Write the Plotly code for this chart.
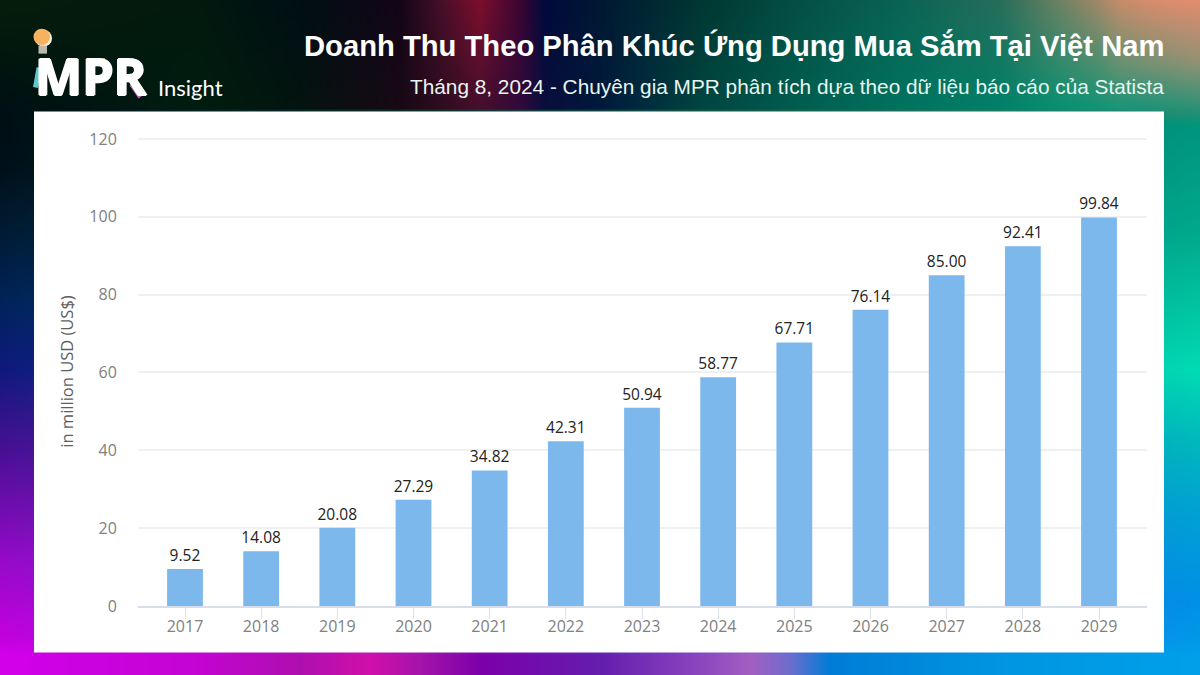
import base64, struct, zlib
import numpy as np
import plotly.graph_objects as go

years = ["2017","2018","2019","2020","2021","2022","2023","2024","2025","2026","2027","2028","2029"]
revenue = [9.52,14.08,20.08,27.29,34.82,42.31,50.94,58.77,67.71,76.14,85.00,92.41,99.84]
y_ticks = [0,20,40,60,80,100,120]
title = "Doanh Thu Theo Phân Khúc Ứng Dụng Mua Sắm Tại Việt Nam"
subtitle = "Tháng 8, 2024 - Chuyên gia MPR phân tích dựa theo dữ liệu báo cáo của Statista"

W, H = 1200, 675
L, R, T, B = 138, 1147, 136.55, 606.5
def px(x): return (x - L) / (R - L)
def py(y): return (B - y) / (B - T)

# background gradient colour stops
top_x = [0,200,300,400,440,480,520,545,600,700,800,900,1000,1060,1120,1200]
top_0 = [(5,30,10),(3,25,15),(0,15,20),(20,5,25),(70,15,40),(125,15,45),(60,5,50),(0,10,60),(0,25,50),(0,55,50),(5,80,70),(10,100,85),(40,110,90),(110,130,100),(190,140,105),(225,140,110)]
top_1 = [(0,15,20),(0,30,15),(5,20,15),(25,10,20),(45,12,30),(70,15,45),(50,10,60),(10,15,60),(0,25,60),(0,70,65),(0,95,80),(0,115,95),(0,130,105),(5,145,115),(20,150,120),(0,150,125)]
edge_y = [110,160,215,300,366,452,560,646,675]
left_c = [(0,15,20),(0,15,25),(0,25,45),(0,35,90),(15,25,125),(75,15,150),(150,10,200),(200,0,225),(210,0,235)]
edge_y_r = [0,60,110,125,230,370,440,520,600,675]
right_c = [(225,140,110),(150,145,115),(40,145,118),(0,150,125),(0,170,140),(0,220,180),(0,185,190),(0,160,215),(0,145,230),(0,160,235)]
bot_x = [0,200,300,370,420,480,600,700,750,790,830,1000,1200]
bot_c = [(210,0,235),(195,5,210),(175,15,175),(210,15,170),(165,20,170),(125,0,170),(100,30,175),(140,70,190),(165,95,195),(110,110,205),(0,125,215),(0,150,225),(0,160,235)]

def ramp(q, xs, cols):
    cols = np.array(cols, float)
    return np.stack([np.interp(q, xs, cols[:, i]) for i in range(3)], -1)

def background():
    w, h = W // 2, H // 2 + 1
    xs = np.linspace(0, W, w); ys = np.linspace(0, H, h)
    img = np.zeros((h, w, 3))
    t0, t1, bt = ramp(xs, top_x, top_0), ramp(xs, top_x, top_1), ramp(xs, bot_x, bot_c)
    for j, y in enumerate(ys):
        lc, rc = ramp(y, edge_y, left_c), ramp(y, edge_y_r, right_c)
        side = lc[None, :] + (rc - lc)[None, :] * (xs / W)[:, None]
        if y <= 110:
            f = y / 110
            row = t0 * (1 - f) + t1 * f
            g = np.clip((xs - 1100) / 100, 0, 1)[:, None]
            row = row * (1 - g) + (row * 0 + rc) * g
        else:
            row = side
            f = np.clip((y - 640) / 15, 0, 1)
            row = row * (1 - f) + bt * f
        img[j] = row
    a = np.clip(img, 0, 255).astype(np.uint8)
    raw = b"".join(b"\x00" + a[j].tobytes() for j in range(h))
    def chunk(t, d):
        return struct.pack(">I", len(d)) + t + d + struct.pack(">I", zlib.crc32(t + d))
    png = b"\x89PNG\r\n\x1a\n" + chunk(b"IHDR", struct.pack(">IIBBBBB", w, h, 8, 2, 0, 0, 0)) + chunk(b"IDAT", zlib.compress(raw, 9)) + chunk(b"IEND", b"")
    return "data:image/png;base64," + base64.b64encode(png).decode()

fig = go.Figure(go.Bar(
    x=list(range(len(years))), y=revenue, width=0.47,
    marker=dict(color="#7CB8EC", line_width=0),
    text=[f"{v:.2f}" for v in revenue], textposition="outside", cliponaxis=False,
    constraintext="none", textangle=0,
    textfont=dict(family="Open Sans", size=15.5, color="#222222", weight=500),
    hoverinfo="x+y",
))

def rect(x0, y0, x1, y1, color, **kw):
    return dict(type="rect", xref="paper", yref="paper", x0=px(x0), x1=px(x1), y0=py(y0), y1=py(y1),
                fillcolor=color, line_width=0, layer=kw.get("layer", "above"))
def oval(x0, y0, x1, y1, color):
    return dict(type="circle", xref="paper", yref="paper", x0=px(x0), x1=px(x1), y0=py(y0), y1=py(y1),
                fillcolor=color, line_width=0, layer="above")
def seg(x0, y0, x1, y1, color, w):
    return dict(type="line", xref="paper", yref="paper", x0=px(x0), x1=px(x1), y0=py(y0), y1=py(y1),
                line=dict(color=color, width=w), layer="above")

shapes = [
    rect(34, 111, 1164, 653, "#FFFFFF", layer="below"),
    oval(35, 29, 52, 46, "#F4F0E6"),
    oval(33.5, 28, 50, 44.5, "#F6B25E"),
    rect(38.5, 45, 47, 53, "#B9B9B0"),
    seg(39, 67, 35.5, 87, "#5CC8D2", 5),
    seg(86, 60, 105, 60, "#E4D45C", 4.5),
    seg(131, 84, 140, 97, "#C264B4", 3.5),
]

def note(x, y, text, size, family="Liberation Sans", color="#FFFFFF", anchor="right", shadow=None):
    font = dict(family=family, size=size, color=color)
    if shadow:
        font["shadow"] = shadow
    return dict(xref="paper", yref="paper", x=px(x), y=py(y), text=text, showarrow=False,
                xanchor=anchor, yanchor="middle", font=font)

annotations = [
    note(1165.5, 45, f"<b>{title}</b>", 29.2),
    note(1165.5, 86, subtitle, 20.8, color="#E8F5F0"),
    note(33, 75.5, "<b>MPR</b>", 50, family="Open Sans", anchor="left",
         shadow="1px 0 0 #fff, -1px 0 0 #fff, 0 1px 0 #fff, 0 -1px 0 #fff"),
    note(156, 87, "Insight", 22, family="Lato", anchor="left"),
]

fig.update_layout(
    width=W, height=H, autosize=False,
    margin=dict(l=L, r=W - R, t=T, b=H - B, pad=0),
    paper_bgcolor="#0090E8", plot_bgcolor="rgba(0,0,0,0)",
    showlegend=False, shapes=shapes, annotations=annotations,
    images=[dict(source=background(), xref="paper", yref="paper", x=px(-1), y=py(-1),
                 sizex=(W + 2) / (R - L), sizey=(H + 3) / (B - T), sizing="stretch",
                 xanchor="left", yanchor="top", layer="below")],
    font=dict(family="Open Sans"),
    xaxis=dict(range=[-0.617, 12.63], tickmode="array", tickvals=list(range(len(years))), ticktext=years,
               ticks="outside", ticklen=11, tickcolor="#DDE2EE", tickwidth=1, ticklabelstandoff=-6,
               tickfont=dict(family="Open Sans", size=16, color="#808080"),
               showline=True, linecolor="#D8DDEB", linewidth=2, showgrid=False, zeroline=False),
    yaxis=dict(range=[0, 120.5], tickmode="array", tickvals=y_ticks,
               ticks="outside", ticklen=17, tickcolor="rgba(0,0,0,0)",
               tickfont=dict(family="Open Sans", size=16, color="#808080"),
               showgrid=True, gridcolor="#EEF0F4", gridwidth=1.5, zeroline=False, showline=False,
               title=dict(text="in million USD (US$)", standoff=11,
                          font=dict(family="Open Sans", size=16.5, color="#5E5E5E"))),
)

fig.write_html("out.html", post_script="document.body.style.margin='0';", config={"displayModeBar": False})
